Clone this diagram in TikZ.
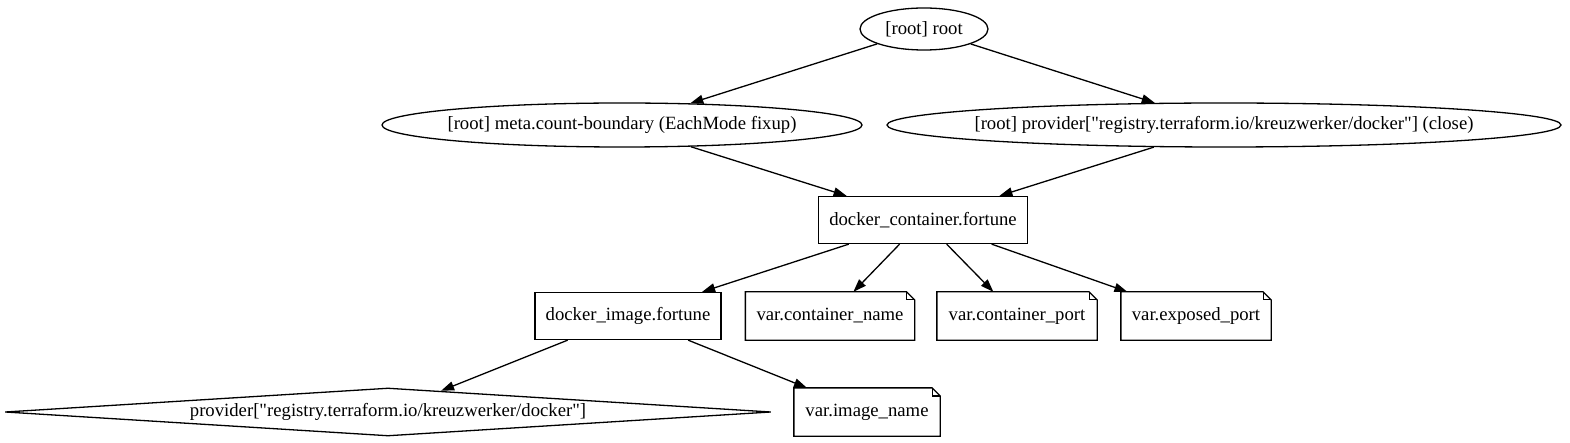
\documentclass[tikz,border=0pt]{standalone}
\usepackage{fontspec}
\setmainfont{Liberation Serif}[Ligatures=TeXOff]
\usetikzlibrary{shapes.geometric,arrows.meta}
\def\notefold{8pt}

\begin{document}
\begin{tikzpicture}[x=1pt,y=-1pt,line width=1.3pt,
		every node/.style={font=\fontsize{18.7}{22}\selectfont,inner sep=0pt},
		oval/.style={ellipse,draw,inner xsep=-20pt,minimum height=44pt},
		box/.style={rectangle,draw,minimum height=47pt},
		varnote/.style={rectangle,minimum height=47pt},
		edge/.style={-{Triangle[length=13pt,width=9pt]}}]
			\useasboundingbox (0,0) rectangle (1570,443);
			% graph nodes
			\node[oval,minimum width=128pt,minimum height=42pt] (root) at (924,29) {[root] root};
			\node[oval,minimum width=480pt] (meta) at (622,125) {[root] meta.count-boundary (EachMode fixup)};
			\node[oval,minimum width=674pt] (close) at (1224,125) {[root] provider["registry.terraform.io/kreuzwerker/docker"] (close)};
			\node[box,minimum width=209pt] (container) at (923,220) {docker\_container.fortune};
			\node[box,minimum width=186pt] (image) at (628,316) {docker\_image.fortune};
			\node[varnote,minimum width=168pt] (cname) at (830,316) {var.container\_name};
			\node[varnote,minimum width=159pt] (cport) at (1017,316) {var.container\_port};
			\node[varnote,minimum width=149pt] (eport) at (1196,316) {var.exposed\_port};
			\node[diamond,draw,aspect=16,minimum width=766pt,minimum height=48pt] (provider) at (388,412) {provider["registry.terraform.io/kreuzwerker/docker"]};
			\node[varnote,minimum width=145pt] (iname) at (867,412) {var.image\_name};
			% note outlines with folded corner
			\foreach \n in {cname,cport,eport,iname} {
				\draw (\n.north west) -- ([xshift=-\notefold]\n.north east) -- ([yshift=-\notefold]\n.north east)
					-- (\n.south east) -- (\n.south west) -- cycle;
				\draw ([xshift=-\notefold]\n.north east) |- ([yshift=-\notefold]\n.north east);
			}
			% edges
			\draw[edge] (root) -- (meta);
			\draw[edge] (root) -- (close);
			\draw[edge] (meta) -- (container);
			\draw[edge] (close) -- (container);
			\foreach \n in {image,cname,cport,eport}
				\draw[edge] (container) -- (\n);
			\draw[edge] (image) -- (provider);
			\draw[edge] (image) -- (iname);
		\end{tikzpicture}
\end{document}
